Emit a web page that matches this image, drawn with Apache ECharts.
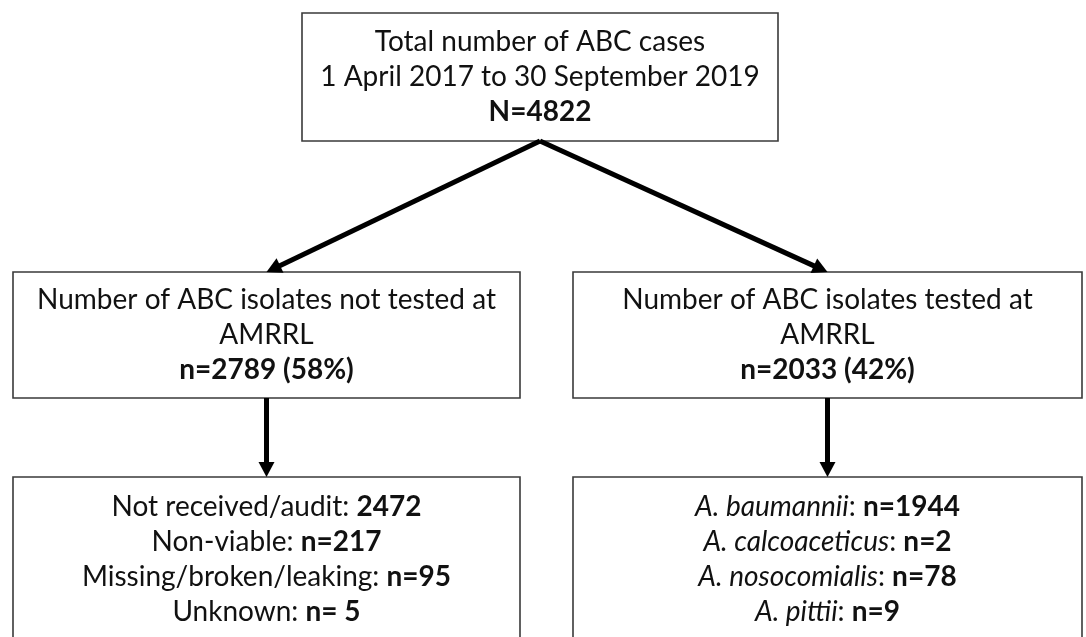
<!DOCTYPE html>
<html><head><meta charset="utf-8">
<script src="https://cdn.jsdelivr.net/npm/echarts@6/dist/echarts.min.js"></script>
<style>html,body{margin:0;padding:0;background:#fff}#chart{width:1086px;height:637px}</style>
</head><body><div id="chart"></div>
<script>
// ---------- DATA ----------
const totalTitle = ['Total number of ABC cases', '1 April 2017 to 30 September 2019'];
const totalN = 4822;
const branchTitles = ['Number of ABC isolates not tested at', 'Number of ABC isolates tested at'];
const labName = 'AMRRL';
const branchN = [2789, 2033];
const branchPct = [58, 42];
const notTestedReasons = ['Not received/audit', 'Non-viable', 'Missing/broken/leaking', 'Unknown'];
const notTestedPrefix = ['', 'n=', 'n=', 'n= '];
const notTestedCounts = [2472, 217, 95, 5];
const species = ['A. baumannii', 'A. calcoaceticus', 'A. nosocomialis', 'A. pittii'];
const speciesCounts = [1944, 2, 78, 9];

// ---------- LAYOUT (diagram units = pixels of the 1086x637 canvas) ----------
const boxes = [
  {x0: 302, y0: 13, x1: 778, y1: 141},
  {x0: 13, y0: 272, x1: 520, y1: 398},
  {x0: 573, y0: 272, x1: 1082, y1: 398},
  {x0: 13, y0: 477, x1: 520, y1: 642},
  {x0: 573, y0: 477, x1: 1082, y1: 642}
];
const links = [[0, 1], [0, 2], [1, 3], [2, 4]];

// ---------- TEXT BUILT FROM DATA ----------
const boxLines = [
  [...totalTitle.map(t => '{r|' + t + '}'), '{b|N=' + totalN + '}'],
  ['{r|' + branchTitles[0] + '}', '{r|' + labName + '}', '{b|n=' + branchN[0] + ' (' + branchPct[0] + '%)}'],
  ['{r|' + branchTitles[1] + '}', '{r|' + labName + '}', '{b|n=' + branchN[1] + ' (' + branchPct[1] + '%)}'],
  notTestedReasons.map((r, i) => '{r|' + r + ': }{b|' + notTestedPrefix[i] + notTestedCounts[i] + '}'),
  species.map((s, i) => '{i|' + s + '}{r|: }{b|n=' + speciesCounts[i] + '}')
];

const FONT = 'Lato, "Open Sans", sans-serif';
const FS = 28, LH = 35;
const rich = {
  r: {fontFamily: FONT, fontSize: FS, lineHeight: LH, fill: '#111', color: '#111'},
  b: {fontFamily: FONT, fontSize: FS, lineHeight: LH, fontWeight: 'bold', fill: '#111', color: '#111'},
  i: {fontFamily: FONT, fontSize: FS, lineHeight: LH, fontStyle: 'italic', fill: '#111', color: '#111'}
};

const chart = echarts.init(document.getElementById('chart'), null, {renderer: 'canvas'});
chart.setOption({
  animation: false,
  backgroundColor: '#fff',
  grid: {left: 0, right: 0, top: 0, bottom: 0},
  xAxis: {type: 'value', min: 0, max: 1086, show: false},
  yAxis: {type: 'value', min: 0, max: 637, inverse: true, show: false},
  series: [
    {
      type: 'custom',
      clip: false,
      data: boxes.map((b, i) => [i]),
      encode: {x: 0, y: 0},
      renderItem: function (params, api) {
        const b = boxes[params.dataIndex];
        const p0 = api.coord([b.x0, b.y0]);
        const p1 = api.coord([b.x1, b.y1]);
        return {
          type: 'group',
          children: [
            {type: 'rect', shape: {x: p0[0], y: p0[1], width: p1[0] - p0[0], height: p1[1] - p0[1]},
             style: {fill: '#fff', stroke: '#3a3a3a', lineWidth: 1.6}},
            {type: 'text', style: {
              text: boxLines[params.dataIndex].join('\n'),
              x: (p0[0] + p1[0]) / 2, y: (p0[1] + p1[1]) / 2,
              align: 'center', verticalAlign: 'middle', rich: rich,
              fontFamily: FONT, fontSize: FS, lineHeight: LH, fill: '#111'
            }}
          ]
        };
      }
    },
    {
      type: 'custom',
      clip: false,
      data: links.map((l, i) => [i]),
      encode: {x: 0, y: 0},
      renderItem: function (params, api) {
        const [fi, ti] = links[params.dataIndex];
        const f = boxes[fi], t = boxes[ti];
        const tipX = (t.x0 + t.x1) / 2;
        const startX = fi === 0 ? (f.x0 + f.x1) / 2 : tipX;
        const s = api.coord([startX, f.y1]);
        const e = api.coord([tipX, t.y0]);
        const dx = e[0] - s[0], dy = e[1] - s[1];
        const L = Math.hypot(dx, dy), ux = dx / L, uy = dy / L;
        const hl = 15, hw = 8;
        const bx = e[0] - ux * hl, by = e[1] - uy * hl;
        return {
          type: 'group',
          children: [
            {type: 'line', shape: {x1: s[0], y1: s[1], x2: bx + ux * 2, y2: by + uy * 2},
             style: {stroke: '#000', lineWidth: 5}},
            {type: 'polygon', shape: {points: [[e[0], e[1]], [bx - uy * hw, by + ux * hw], [bx + uy * hw, by - ux * hw]]},
             style: {fill: '#000'}}
          ]
        };
      }
    }
  ]
});
</script>
</body></html>
